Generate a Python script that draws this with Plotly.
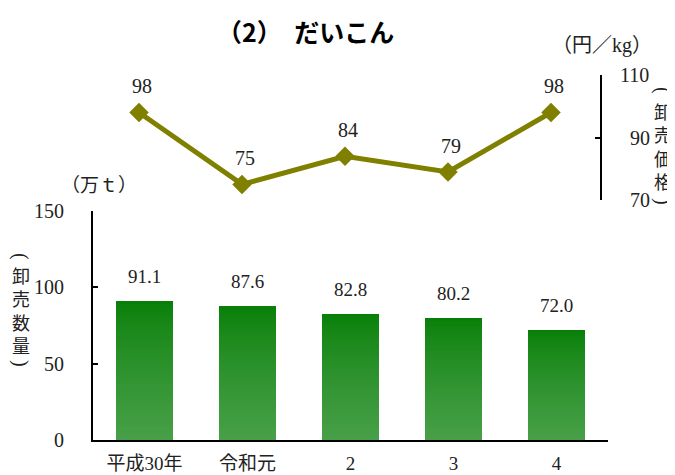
import plotly.graph_objects as go

# ---- data ----
categories = ["平成30年", "令和元", "2", "3", "4"]
volume = [91.1, 87.6, 82.8, 80.2, 72.0]      # 卸売数量（万t）
price = [98, 75, 84, 79, 98]                 # 卸売価格（円/kg）
vol_ticks = [0, 50, 100, 150]
price_ticks = [70, 90, 110]
left_label = ["卸", "売", "数", "量"]
right_label = ["卸", "売", "価", "格"]

W, H = 675, 475
OFF = 8  # page body margin offset


def px(x):
    return (x - OFF) / W


def py(y):
    return 1 - (y - OFF) / H


SERIF = "'Liberation Serif', 'Noto Sans CJK JP', serif"
SANS = "'Noto Sans CJK JP', sans-serif"
TXT = "#222"

fig = go.Figure()

# gradient bars: each bar split into equal slices of its own value
N = 40
top_c = (6, 126, 6)
bot_c = (72, 160, 72)
for k in range(N):
    t_from_top = 1 - (k + 0.5) / N
    e = t_from_top ** 0.75
    col = tuple(round(top_c[j] + (bot_c[j] - top_c[j]) * e) for j in range(3))
    fig.add_trace(go.Bar(
        x=categories,
        y=[v / N for v in volume],
        marker=dict(color="rgb(%d,%d,%d)" % col, line=dict(width=0)),
        width=0.56,
        xaxis="x", yaxis="y",
        showlegend=False, hoverinfo="skip",
    ))

fig.add_trace(go.Scatter(
    x=categories, y=price,
    mode="lines+markers",
    line=dict(color="#808000", width=5),
    marker=dict(symbol="diamond", size=15, color="#808000"),
    xaxis="x2", yaxis="y2",
    showlegend=False, cliponaxis=False,
))

ann = []
for c, v in zip(categories, volume):
    ann.append(dict(x=c, y=v, xref="x", yref="y", text=f"{v:.1f}",
                    showarrow=False, yanchor="bottom", yshift=12,
                    font=dict(family=SERIF, size=19, color=TXT)))
for c, p in zip(categories, price):
    ann.append(dict(x=c, y=p, xref="x2", yref="y2", text=str(p),
                    showarrow=False, yanchor="bottom", yshift=13, xshift=3,
                    font=dict(family=SERIF, size=20, color=TXT)))

ann.append(dict(x=px(305), y=py(31), xref="paper", yref="paper",
                text="<b>（2）\u2002だいこん</b>", showarrow=False,
                xanchor="center", yanchor="middle",
                font=dict(family=SANS, size=25, color="#000")))
ann.append(dict(x=px(602), y=py(46), xref="paper", yref="paper",
                text="（円／kg）", showarrow=False,
                xanchor="center", yanchor="middle",
                font=dict(family=SERIF, size=20, color=TXT)))
ann.append(dict(x=px(99), y=py(185), xref="paper", yref="paper",
                text="（万ｔ）", showarrow=False,
                xanchor="center", yanchor="middle",
                font=dict(family=SERIF, size=19, color=TXT)))


def vertical_title(chars, xc, yc, y_open, y_close):
    out = []
    out.append(dict(x=px(xc), y=py(y_open), xref="paper", yref="paper",
                    text="(", textangle=90, showarrow=False,
                    xanchor="center", yanchor="middle",
                    font=dict(family=SERIF, size=20, color=TXT)))
    out.append(dict(x=px(xc), y=py(yc), xref="paper", yref="paper",
                    text="<br>".join(chars), showarrow=False,
                    xanchor="center", yanchor="middle",
                    font=dict(family=SANS, size=18, color=TXT)))
    out.append(dict(x=px(xc), y=py(y_close), xref="paper", yref="paper",
                    text=")", textangle=90, showarrow=False,
                    xanchor="center", yanchor="middle",
                    font=dict(family=SERIF, size=20, color=TXT)))
    return out


ann += vertical_title(right_label, 663, 146, 90, 201)
ann += vertical_title(left_label, 21, 310, 256, 363)

fig.update_layout(
    width=W, height=H,
    margin=dict(l=0, r=0, t=0, b=0),
    paper_bgcolor="white", plot_bgcolor="white",
    barmode="stack",
    annotations=ann,
    xaxis=dict(domain=[px(93), px(608)], range=[-0.5, 4.5], type="category",
               categoryarray=categories, automargin=False,
               showline=True, linecolor="black", linewidth=2, ticks="",
               showgrid=False, zeroline=False, anchor="y",
               tickfont=dict(family=SERIF, size=19, color=TXT),
               ticklabelstandoff=5),
    yaxis=dict(domain=[py(440), py(211)], range=[0, 150], tickvals=vol_ticks,
               automargin=False,
               showline=True, linecolor="black", linewidth=2,
               ticks="inside", ticklen=5, tickwidth=2, tickcolor="black",
               showgrid=False, zeroline=False, anchor="x",
               tickfont=dict(family=SERIF, size=20, color=TXT),
               ticklabelstandoff=23),
    xaxis2=dict(domain=[px(87.5), px(602.5)], range=[-0.5, 4.5], type="category",
                categoryarray=categories, visible=False, anchor="y2",
                automargin=False),
    yaxis2=dict(domain=[py(200), py(75)], range=[70, 110], tickvals=price_ticks,
                ticktext=[("\u2007" if v < 100 else "") + str(v) for v in price_ticks],
                anchor="free", position=px(601), side="right", automargin=False,
                showline=True, linecolor="black", linewidth=2,
                ticks="inside", ticklen=5, tickwidth=2, tickcolor="black",
                showgrid=False, zeroline=False,
                tickfont=dict(family=SERIF, size=20, color=TXT),
                ticklabelstandoff=14),
)

fig.write_html("out.html")
